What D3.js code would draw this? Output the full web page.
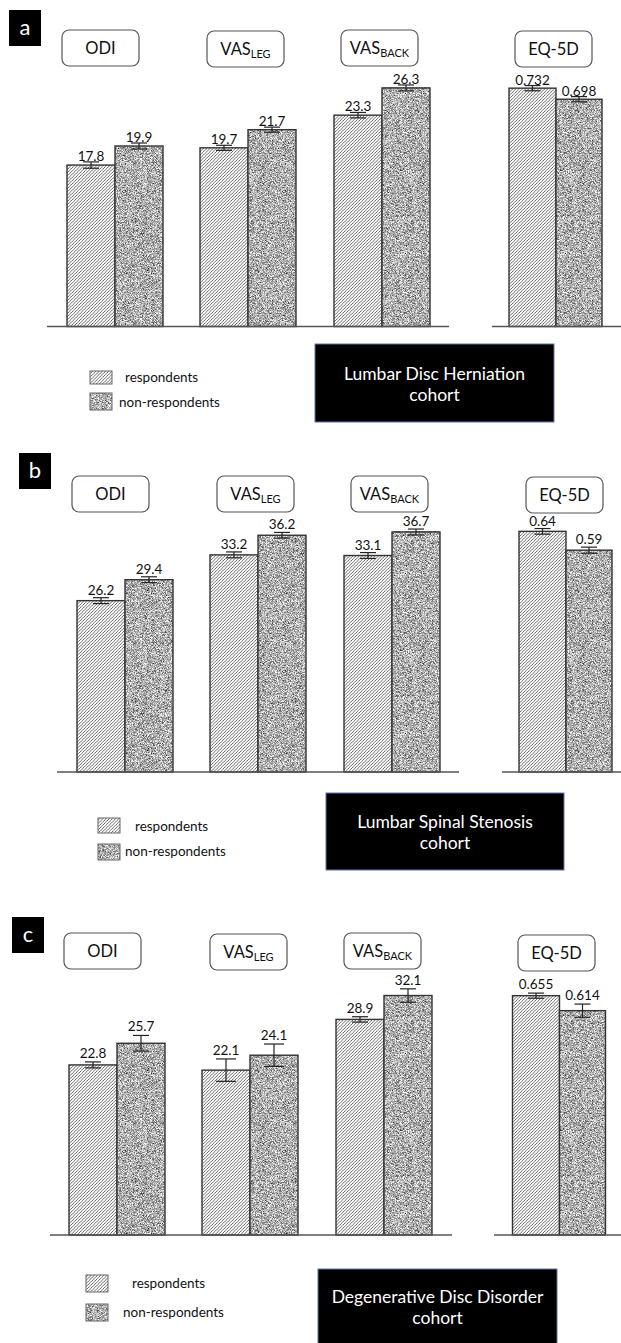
<!DOCTYPE html>
<html><head><meta charset="utf-8">
<script src="https://cdn.jsdelivr.net/npm/d3@7"></script>
<style>
body{margin:0;background:#fff}
svg{display:block}
text{font-family:Lato,"Open Sans",sans-serif}
</style>
</head><body>
<svg id="chart" width="621" height="1343"></svg>
<script>
// ---------- DATA ----------
const metrics = ["ODI", "VAS_LEG", "VAS_BACK", "EQ-5D"];
const metricMain = ["ODI", "VAS", "VAS", "EQ-5D"];
const metricSub = ["", "LEG", "BACK", ""];
const seriesNames = ["respondents", "non-respondents"];
const panelLetters = ["a", "b", "c"];
const cohortLine1 = ["Lumbar Disc Herniation", "Lumbar Spinal Stenosis", "Degenerative Disc Disorder"];
const cohortLine2 = ["cohort", "cohort", "cohort"];

const respA = [17.8, 19.7, 23.3, 0.732];
const nonA  = [19.9, 21.7, 26.3, 0.698];
const errRespA = [0.35, 0.28, 0.3, 0.008];
const errNonA  = [0.33, 0.28, 0.33, 0.008];

const respB = [26.2, 33.2, 33.1, 0.64];
const nonB  = [29.4, 36.2, 36.7, 0.59];
const errRespB = [0.45, 0.45, 0.45, 0.0075];
const errNonB  = [0.45, 0.43, 0.45, 0.008];

const respC = [22.8, 22.1, 28.9, 0.655];
const nonC  = [25.7, 24.1, 32.1, 0.614];
const errRespC = [0.4, 1.5, 0.36, 0.007];
const errNonC  = [1.05, 1.5, 0.9, 0.018];

const panelValues = [[respA, nonA], [respB, nonB], [respC, nonC]];
const panelErrors = [[errRespA, errNonA], [errRespB, errNonB], [errRespC, errNonC]];

// ---------- LAYOUT ----------
const layout = [
  {base: 326.5, mainPx: 9.07, eqPx: 325.6, groupX: [67, 200, 334, 509], boxX: [62, 207, 341, 515], boxY: [30, 31, 30, 31],
   letter: [9, 10], segs: [[47, 449], [492, 621]], labOff: 1,
   legend: {x: 90, y1: 371, h1: 13, y2: 393, h2: 17, t1x: 125, t1y: 377, t2x: 119, t2y: 402},
   cohort: {x: 315, y: 344, w: 239, h: 78, b1: 380, b2: 401}},
  {base: 772, mainPx: 6.54, eqPx: 376, groupX: [77, 210, 344, 519], boxX: [72, 217, 351, 526], boxY: [476, 476, 476, 477],
   letter: [19, 453], segs: [[57, 459], [502, 621]], labOff: 3,
   legend: {x: 98, y1: 818, h1: 15, y2: 844, h2: 16, t1x: 135, t1y: 826, t2x: 125, t2y: 851},
   cohort: {x: 326, y: 793, w: 238, h: 77, b1: 828, b2: 849}},
  {base: 1235, mainPx: 7.46, eqPx: 365.4, groupX: [69, 202, 336, 512.5], boxX: [64, 210, 344, 518], boxY: [933, 934, 933, 935],
   letter: [12, 917], segs: [[50, 452], [494, 621]], labOff: 4,
   legend: {x: 86, y1: 1275, h1: 17, y2: 1304, h2: 17, t1x: 132, t1y: 1283, t2x: 123, t2y: 1312},
   cohort: {x: 318, y: 1269, w: 239, h: 90, b1: 1303, b2: 1324}}
];
const barW = [48, 48, 48, 47];

// ---------- DRAW ----------
const svg = d3.select("#chart");
const defs = svg.append("defs");

// hatch pattern
const hs = 3.2;
const hatch = defs.append("pattern").attr("id", "hatch").attr("patternUnits", "userSpaceOnUse")
  .attr("width", hs).attr("height", hs);
hatch.append("rect").attr("width", hs).attr("height", hs).attr("fill", "#fff");
hatch.append("path").attr("d", `M${-hs/4},${hs/4} L${hs/4},${-hs/4} M0,${hs} L${hs},0 M${hs*0.75},${hs*1.25} L${hs*1.25},${hs*0.75}`)
  .attr("stroke", "#444").attr("stroke-width", 0.8);

// granite filter
const f = defs.append("filter").attr("id", "granite").attr("x", 0).attr("y", 0).attr("width", 1).attr("height", 1)
  .attr("color-interpolation-filters", "sRGB");
f.append("feTurbulence").attr("type", "fractalNoise").attr("baseFrequency", 1.6).attr("numOctaves", 2).attr("seed", 7).attr("result", "n");
f.append("feColorMatrix").attr("in", "n").attr("type", "matrix")
  .attr("values", "1.45 0 0 0 -0.04  1.45 0 0 0 -0.04  1.45 0 0 0 -0.04  0 0 0 0 1");

layout.forEach((L, p) => {
  const g = svg.append("g");
  const yMain = d3.scaleLinear().domain([0, 40]).range([L.base, L.base - 40 * L.mainPx]);
  const yEq = d3.scaleLinear().domain([0, 1]).range([L.base, L.base - L.eqPx]);
  const yOf = i => (i === 3 ? yEq : yMain);

  // panel letter
  g.append("rect").attr("x", L.letter[0]).attr("y", L.letter[1]).attr("width", 32).attr("height", 36).attr("fill", "#000");
  g.append("text").attr("x", L.letter[0] + 16).attr("y", L.letter[1] + 25).attr("text-anchor", "middle")
    .attr("fill", "#fff").attr("font-size", 22).text(panelLetters[p]);

  // metric title boxes
  metrics.forEach((m, i) => {
    g.append("rect").attr("x", L.boxX[i]).attr("y", L.boxY[i]).attr("width", 77).attr("height", 36)
      .attr("rx", 7).attr("fill", "#fff").attr("stroke", "#555").attr("stroke-width", 1.2);
    const t = g.append("text").attr("x", L.boxX[i] + 38.5).attr("y", L.boxY[i] + 24)
      .attr("text-anchor", "middle").attr("font-size", 16.5).attr("fill", "#111");
    t.append("tspan").text(metricMain[i]);
    if (metricSub[i]) t.append("tspan").attr("font-size", 11).attr("dy", 3).text(metricSub[i]);
  });

  // bars
  metrics.forEach((m, i) => {
    const y = yOf(i);
    seriesNames.forEach((s, k) => {
      const v = panelValues[p][k][i];
      const e = panelErrors[p][k][i];
      const bx = L.groupX[i] + k * barW[i];
      const w = i === 3 && k === 1 ? barW[i] - 1 : barW[i];
      const top = y(v);
      const r = g.append("rect").attr("x", bx).attr("y", top).attr("width", w).attr("height", y(0) - top);
      if (k === 0) r.attr("fill", "url(#hatch)");
      else r.attr("fill", "#aaa").attr("filter", "url(#granite)");
      g.append("rect").attr("x", bx).attr("y", top).attr("width", w).attr("height", y(0) - top)
        .attr("fill", "none").attr("stroke", "#333").attr("stroke-width", 1.4);
      // error bar
      const cx = bx + w / 2;
      const cw = e * (i === 3 ? L.eqPx : L.mainPx) > 8 ? 20 : 16;
      g.append("line").attr("x1", cx).attr("x2", cx).attr("y1", y(v + e)).attr("y2", y(v - e))
        .attr("stroke", "#222").attr("stroke-width", 1.2);
      [v + e, v - e].forEach(val => {
        g.append("line").attr("x1", cx - cw / 2).attr("x2", cx + cw / 2).attr("y1", y(val)).attr("y2", y(val))
          .attr("stroke", "#222").attr("stroke-width", 1.2);
      });
      g.append("text").attr("x", cx).attr("y", y(v + e) - L.labOff).attr("text-anchor", "middle")
        .attr("font-size", 13.5).attr("fill", "#111").text(String(v));
    });
  });

  // baseline segments
  L.segs.forEach(sg => {
    g.append("line").attr("x1", sg[0]).attr("x2", sg[1]).attr("y1", L.base).attr("y2", L.base)
      .attr("stroke", "#555").attr("stroke-width", 1.5);
  });

  // legend
  const lg = L.legend;
  g.append("rect").attr("x", lg.x).attr("y", lg.y1).attr("width", 22).attr("height", lg.h1)
    .attr("fill", "url(#hatch)").attr("stroke", "#666").attr("stroke-width", 1);
  g.append("rect").attr("x", lg.x).attr("y", lg.y2).attr("width", 22).attr("height", lg.h2)
    .attr("fill", "#aaa").attr("filter", "url(#granite)");
  g.append("rect").attr("x", lg.x).attr("y", lg.y2).attr("width", 22).attr("height", lg.h2)
    .attr("fill", "none").attr("stroke", "#666").attr("stroke-width", 1);
  g.append("text").attr("x", lg.t1x).attr("y", lg.t1y).attr("dy", "0.35em").attr("font-size", 13.5).attr("fill", "#111").text(seriesNames[0]);
  g.append("text").attr("x", lg.t2x).attr("y", lg.t2y).attr("dy", "0.35em").attr("font-size", 13.5).attr("fill", "#111").text(seriesNames[1]);

  // cohort box
  const c = L.cohort;
  g.append("rect").attr("x", c.x).attr("y", c.y).attr("width", c.w).attr("height", c.h)
    .attr("fill", "#000").attr("stroke", "#5a78a8").attr("stroke-width", 1);
  g.append("text").attr("x", c.x + c.w / 2).attr("y", c.b1).attr("text-anchor", "middle")
    .attr("font-size", 17.5).attr("fill", "#fff").text(cohortLine1[p]);
  g.append("text").attr("x", c.x + c.w / 2).attr("y", c.b2).attr("text-anchor", "middle")
    .attr("font-size", 17.5).attr("fill", "#fff").text(cohortLine2[p]);
});
</script>
</body></html>
